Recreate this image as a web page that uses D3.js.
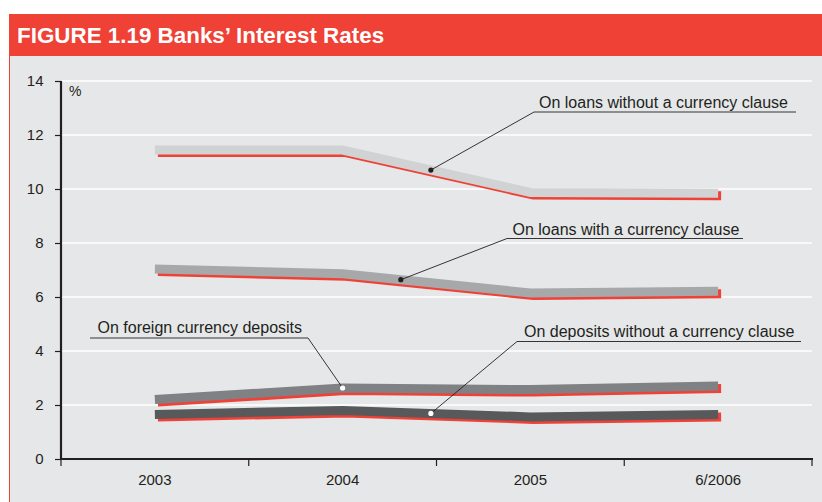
<!DOCTYPE html>
<html>
<head>
  <meta charset="utf-8">
  <title>banks-interest-rates</title>
  <style>
    body { margin: 0; background: #fff; }
    svg text { font-family: "Liberation Sans", Arial, sans-serif; fill: #231f20; }
    .axis text { font-size: 15px; }
    .axis line { stroke: #231f20; stroke-width: 1.2; }
    .axis .domain { stroke: #231f20; stroke-width: 2.2; }
  </style>
  <script src="https://cdn.jsdelivr.net/npm/d3@7"></script>
</head>
<body>
<script>

  // data
  var categories = ["2003", "2004", "2005", "6/2006"];
  var loansNoClause = [11.44, 11.44, 9.87, 9.84];
  var loansClause = [7.04, 6.86, 6.15, 6.21];
  var fxDeposits = [2.20, 2.63, 2.57, 2.70];
  var depositsNoClause = [1.65, 1.80, 1.56, 1.65];
  var yTicks = [0, 2, 4, 6, 8, 10, 12, 14];

  var seriesNames = [
    "On loans without a currency clause",
    "On loans with a currency clause",
    "On foreign currency deposits",
    "On deposits without a currency clause"
  ];
  var seriesValues = [loansNoClause, loansClause, fxDeposits, depositsNoClause];
  var seriesColors = ["#d1d2d4", "#a7a8aa", "#808184", "#58595b"];

  var W = 822, H = 502;

  var svg = d3.select("body").append("svg")
    .attr("width", W)
    .attr("height", H);

  // title bar + panel
  svg.append("rect").attr("x", 9).attr("y", 55).attr("width", W - 9).attr("height", H - 55)
    .attr("fill", "#e6e7e8");
  svg.append("line").attr("x1", 9.5).attr("x2", 9.5).attr("y1", 55).attr("y2", H)
    .attr("stroke", "#ef4136").attr("stroke-width", 1);
  svg.append("rect").attr("x", 9).attr("y", 14).attr("width", W - 9).attr("height", 42)
    .attr("fill", "#ef4136");
  svg.append("text")
    .attr("x", 17).attr("y", 43)
    .style("font-size", "22.4px").style("font-weight", "bold").style("fill", "#fff")
    .text("FIGURE 1.19 Banks\u2019 Interest Rates");

  var x = d3.scaleBand().domain(categories).range([61, 812]);
  var y = d3.scaleLinear().domain([0, 14]).range([459, 81]);
  function cx(c) { return x(c) + x.bandwidth() / 2; }

  // grid
  svg.append("g").selectAll("line")
    .data(yTicks.filter(function(d) { return d > 0; }))
    .enter().append("line")
      .attr("x1", 62).attr("x2", 812)
      .attr("y1", function(d) { return y(d); })
      .attr("y2", function(d) { return y(d); })
      .attr("stroke", "#fff").attr("stroke-width", 1.5);

  // series: red shadow, then grey band
  var line = d3.line()
    .x(function(d, i) { return cx(categories[i]); })
    .y(function(d) { return y(d); });

  var g = svg.append("g");
  seriesValues.forEach(function(vals, k) {
    g.append("path")
      .attr("d", line(vals))
      .attr("transform", "translate(3,2.5)")
      .attr("fill", "none").attr("stroke", "#ef4136").attr("stroke-width", 9);
  });
  seriesValues.forEach(function(vals, k) {
    g.append("path")
      .attr("d", line(vals))
      .attr("fill", "none").attr("stroke", seriesColors[k]).attr("stroke-width", 9);
  });

  // axes
  svg.append("g")
    .attr("class", "axis")
    .attr("transform", "translate(61,0)")
    .call(d3.axisLeft(y).tickValues(yTicks).tickSize(6).tickSizeOuter(0).tickPadding(11.5))
    .select(".domain").attr("d", "M0," + y(14) + "V" + (y(0) + 1));

  var xa = svg.append("g")
    .attr("class", "axis")
    .attr("transform", "translate(0," + y(0) + ")")
    .call(d3.axisBottom(x).tickSize(0).tickSizeOuter(0).tickPadding(15));
  xa.select(".domain").attr("d", "M61,0H813");
  xa.selectAll(".bound")
    .data(categories.map(function(c) { return x(c); }).concat([x.range()[1]]))
    .enter().append("line")
      .attr("class", "bound")
      .attr("x1", function(d) { return d; }).attr("x2", function(d) { return d; })
      .attr("y1", 0).attr("y2", 7);

  svg.append("text").attr("x", 69).attr("y", 96).style("font-size", "14px").text("%");

  // callouts: t = position along the category axis (index units)
  var callouts = [
    {s: 0, t: 1.47, dot: "#231f20", tx: 539, ty: 107.5, ux1: 534, ux2: 796, uy: 112, lx: 534},
    {s: 1, t: 1.31, dot: "#231f20", tx: 512.5, ty: 235, ux1: 507, ux2: 743, uy: 238.5, lx: 507},
    {s: 2, t: 1.0, dot: "#ffffff", tx: 97.5, ty: 333, ux1: 90, ux2: 308, uy: 338, lx: 308},
    {s: 3, t: 1.47, dot: "#ffffff", tx: 524, ty: 336.5, ux1: 517, ux2: 801, uy: 341.5, lx: 517}
  ];

  var ann = svg.append("g");
  callouts.forEach(function(c) {
    var vals = seriesValues[c.s];
    var i0 = Math.floor(c.t), f = c.t - i0;
    var v = f === 0 ? vals[i0] : vals[i0] + (vals[i0 + 1] - vals[i0]) * f;
    var px = cx(categories[i0]) + f * x.step();
    var py = y(v);
    ann.append("line").attr("x1", c.ux1).attr("x2", c.ux2).attr("y1", c.uy).attr("y2", c.uy)
      .attr("stroke", "#231f20").attr("stroke-width", 0.9);
    ann.append("line").attr("x1", c.lx).attr("y1", c.uy).attr("x2", px).attr("y2", py)
      .attr("stroke", "#231f20").attr("stroke-width", 0.9);
    ann.append("circle").attr("cx", px).attr("cy", py).attr("r", 2.6)
      .attr("fill", c.dot);
    ann.append("text").attr("x", c.tx).attr("y", c.ty)
      .style("font-size", "16px")
      .text(seriesNames[c.s]);
  });

</script>
</body>
</html>
